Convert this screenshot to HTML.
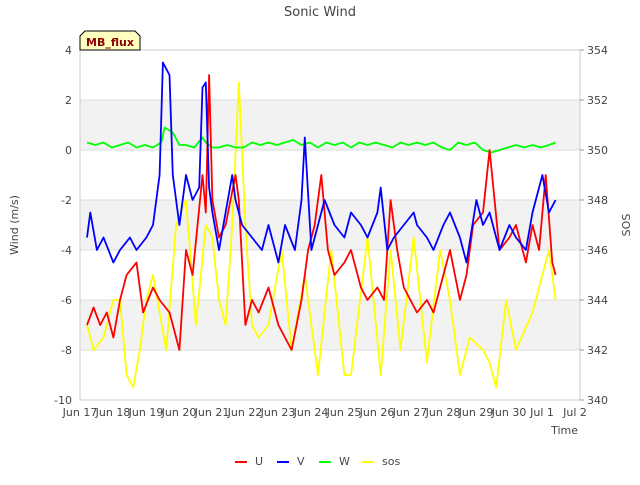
<!DOCTYPE html>
<html><head><meta charset="utf-8"><style>
body{margin:0;background:#fff;font-family:"Liberation Sans","DejaVu Sans",sans-serif}
svg text{font-family:"DejaVu Sans","Liberation Sans",sans-serif;fill:#444}
</style></head><body>
<svg id="c" width="640" height="480" viewBox="0 0 640 480" xmlns="http://www.w3.org/2000/svg">
<rect width="640" height="480" fill="#fff"/>
<g id="bands"></g>
<g id="grid"></g>
<rect x="80" y="50" width="500" height="350" fill="none" stroke="#ccc"/>
<g id="series"></g>
<g id="axes"></g>
<text x="320" y="16" text-anchor="middle" font-size="13">Sonic Wind</text>
<text transform="translate(18,225) rotate(-90)" text-anchor="middle" font-size="11">Wind (m/s)</text>
<text transform="translate(630,225) rotate(-90)" text-anchor="middle" font-size="11">SOS</text>
<text x="578" y="434" text-anchor="end" font-size="11">Time</text>
<g>
<path d="M80,50 L80,36 L85,31 L135,31 L140,36 L140,50 Z" fill="#ffffc0" stroke="#000"/>
<text x="110" y="46" text-anchor="middle" font-size="11" font-weight="bold" style="fill:#8b0000">MB_flux</text>
</g>
<g id="legend"></g>
</svg>
<script>
const xTickLabels=["Jun 17","Jun 18","Jun 19","Jun 20","Jun 21","Jun 22","Jun 23","Jun 24","Jun 25","Jun 26","Jun 27","Jun 28","Jun 29","Jun 30","Jul 1","Jul 2"];
const yTicks=[4,2,0,-2,-4,-6,-8,-10];
const y2Ticks=[354,352,350,348,346,344,342,340];
const uT=[17,17.2,17.4,17.6,17.8,18,18.2,18.5,18.7,19,19.2,19.5,19.8,20,20.2,20.5,20.6,20.7,20.8,21,21.2,21.5,21.6,21.8,22,22.2,22.5,22.8,23,23.2,23.5,23.7,23.9,24.1,24.3,24.5,24.8,25,25.3,25.5,25.8,26,26.2,26.4,26.6,27,27.3,27.5,27.8,28,28.3,28.5,28.7,29,29.2,29.5,29.8,30,30.3,30.5,30.7,30.9,31.1,31.2];
const uV=[-7,-6.3,-7,-6.5,-7.5,-6,-5,-4.5,-6.5,-5.5,-6,-6.5,-8,-4,-5,-1,-2.5,3,-2,-3.5,-3,-1,-2,-7,-6,-6.5,-5.5,-7,-7.5,-8,-6,-4,-3,-1,-4,-5,-4.5,-4,-5.5,-6,-5.5,-6,-2,-4,-5.5,-6.5,-6,-6.5,-5,-4,-6,-5,-3,-2.5,0,-4,-3.5,-3,-4.5,-3,-4,-1,-4.5,-5];
const vT=[17,17.1,17.3,17.5,17.8,18,18.3,18.5,18.8,19,19.2,19.3,19.5,19.6,19.8,20,20.2,20.4,20.5,20.6,20.7,20.8,21,21.2,21.4,21.5,21.7,22,22.3,22.5,22.8,23,23.3,23.5,23.6,23.8,24,24.2,24.5,24.8,25,25.3,25.5,25.8,25.9,26.1,26.3,26.6,26.9,27,27.3,27.5,27.8,28,28.3,28.5,28.8,29,29.2,29.5,29.8,30,30.3,30.5,30.8,31,31.2];
const vV=[-3.5,-2.5,-4,-3.5,-4.5,-4,-3.5,-4,-3.5,-3,-1,3.5,3,-1,-3,-1,-2,-1.5,2.5,2.7,-1.5,-2.5,-4,-2.5,-1,-2,-3,-3.5,-4,-3,-4.5,-3,-4,-2,0.5,-4,-3,-2,-3,-3.5,-2.5,-3,-3.5,-2.5,-1.5,-4,-3.5,-3,-2.5,-3,-3.5,-4,-3,-2.5,-3.5,-4.5,-2,-3,-2.5,-4,-3,-3.5,-4,-2.5,-1,-2.5,-2];
const wT=[17,17.25,17.5,17.75,18,18.25,18.5,18.75,19,19.25,19.35,19.6,19.8,20,20.25,20.5,20.6,20.8,21,21.25,21.5,21.75,22,22.25,22.5,22.75,23,23.25,23.5,23.75,24,24.25,24.5,24.75,25,25.25,25.5,25.75,26,26.25,26.5,26.75,27,27.25,27.5,27.75,28,28.25,28.5,28.75,29,29.25,29.5,29.75,30,30.25,30.5,30.75,31,31.2];
const wV=[0.3,0.2,0.3,0.1,0.2,0.3,0.1,0.2,0.1,0.3,0.9,0.7,0.2,0.2,0.1,0.5,0.3,0.1,0.1,0.2,0.1,0.1,0.3,0.2,0.3,0.2,0.3,0.4,0.2,0.3,0.1,0.3,0.2,0.3,0.1,0.3,0.2,0.3,0.2,0.1,0.3,0.2,0.3,0.2,0.3,0.1,0,0.3,0.2,0.3,0,-0.1,0,0.1,0.2,0.1,0.2,0.1,0.2,0.3];
const sT=[17,17.2,17.5,17.8,18,18.2,18.4,18.6,18.8,19,19.2,19.4,19.7,20,20.3,20.6,20.8,21,21.2,21.4,21.6,21.8,22,22.2,22.5,22.9,23.2,23.6,23.8,24,24.4,24.8,25,25.5,25.9,26.2,26.5,26.9,27.3,27.7,28,28.3,28.6,29,29.2,29.4,29.7,30,30.5,31,31.2];
const sV=[343,342,342.5,344,344,341,340.5,342,344,345,343.5,342,347,348,343,347,346.5,344,343,347,352.7,347,343,342.5,343,346,342,345,343,341,346,341,341,346.5,341,346,342,346.5,341.5,346,344,341,342.5,342,341.5,340.5,344,342,343.5,346,344];
const X=t=>87+(t-17)*33, Y=v=>50+(4-v)*25, Y2=s=>50+(354-s)*25;
const NS="http://www.w3.org/2000/svg";
function mk(tag,p,attrs){const e=document.createElementNS(NS,tag);for(const k in attrs)e.setAttribute(k,attrs[k]);p.appendChild(e);return e;}
const bands=document.getElementById('bands');
[[2,0],[-2,-4],[-6,-8]].forEach(b=>{const r=mk('rect',bands,{x:80,y:Y(b[0]),width:500,height:Y(b[1])-Y(b[0]),fill:'#f2f2f2'});

});
const grid=document.getElementById('grid'),axes=document.getElementById('axes');
yTicks.forEach(v=>{const l=mk('line',grid,{x1:80,x2:580,y1:Y(v),y2:Y(v),stroke:'#ddd'});


const t=mk('text',axes,{x:72,y:Y(v)+4,'text-anchor':'end','font-size':11});t.textContent=v;

});
y2Ticks.forEach(v=>{const t=mk('text',axes,{x:587,y:Y2(v)+4,'font-size':11});t.textContent=v;


mk('line',axes,{x1:580,x2:584,y1:Y2(v),y2:Y2(v),stroke:'#999'});});
xTickLabels.forEach((s,i)=>{const x=80+i*33;const t=mk('text',axes,{x:x,y:416,'text-anchor':'middle','font-size':11});t.textContent=s;

});
const ser=document.getElementById('series');
function line(T,V,f,col,name){const d=T.map((t,i)=>(i?'L':'M')+X(t).toFixed(1)+','+f(V[i]).toFixed(1)).join('');
const p=mk('path',ser,{d:d,fill:'none',stroke:col,'stroke-width':1.8,'stroke-linejoin':'round'});

}
line(sT,sV,Y2,'#ffff00','sos-line');
line(wT,wV,Y,'#00ff00','w-line');
line(uT,uV,Y,'#ff0000','u-line');
line(vT,vV,Y,'#0000ff','v-line');
const lg=document.getElementById('legend');
[['U','#ff0000',235],['V','#0000ff',277],['W','#00ff00',319],['sos','#ffff00',362]].forEach(a=>{
const g=mk('g',lg,{});


mk('line',g,{x1:a[2],x2:a[2]+12,y1:462,y2:462,stroke:a[1],'stroke-width':2});
const t=mk('text',g,{x:a[2]+20,y:465,'font-size':11});t.textContent=a[0];});
</script>
</body></html>
